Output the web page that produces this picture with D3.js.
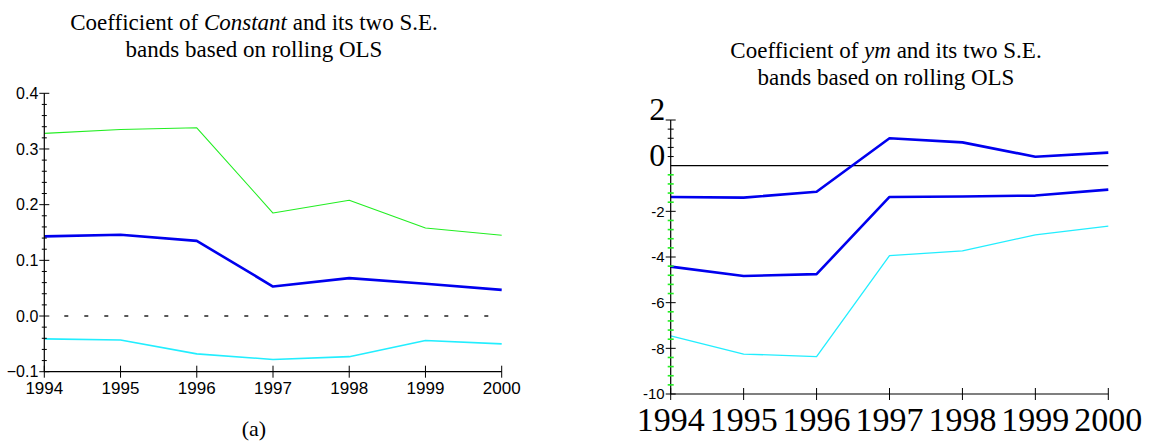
<!DOCTYPE html>
<html>
<head>
<meta charset="utf-8">
<script src="https://cdn.jsdelivr.net/npm/d3@7/dist/d3.min.js"></script>
<style>
  html, body { margin: 0; padding: 0; background: #fff; }
  svg { display: block; }
  .serif { font-family: "Liberation Serif", "Times New Roman", serif; }
  .sans { font-family: "Liberation Sans", Arial, sans-serif; }
</style>
</head>
<body>
<svg id="chart" width="1154" height="443"></svg>
<script>
"use strict";

// ─── Data ─────────────────────────────────────────────────────────────────────
const years = [1994, 1995, 1996, 1997, 1998, 1999, 2000];

// panel (a): coefficient of Constant
const constUpper = [0.328, 0.335, 0.338, 0.185, 0.208, 0.158, 0.145];
const constCoef  = [0.143, 0.146, 0.135, 0.053, 0.068, 0.058, 0.047];
const constLower = [-0.041, -0.043, -0.068, -0.078, -0.073, -0.044, -0.050];
const constTicks = [-0.1, 0.0, 0.1, 0.2, 0.3, 0.4];

// panel (b): coefficient of ym
const ymUpper = [-1.37, -1.40, -1.14, 1.20, 1.02, 0.39, 0.57];
const ymCoef  = [-4.42, -4.83, -4.75, -1.37, -1.35, -1.31, -1.05];
const ymLower = [-7.45, -8.25, -8.36, -3.94, -3.73, -3.03, -2.65];
const ymTicks = [-10, -8, -6, -4, -2];
const ymBigTicks = [0, 2];   // these two are printed large, sitting on the tick

const svg = d3.select("#chart");

const line = (x, y) => d3.line().x((d, i) => x(years[i])).y(d => y(d));

function drawSeries(g, x, y, values, color, width) {
  g.append("path")
    .datum(values)
    .attr("fill", "none")
    .attr("stroke", color)
    .attr("stroke-width", width)
    .attr("stroke-linejoin", "round")
    .attr("d", line(x, y));
}

function xAxis(g, x, y0, opts) {
  g.append("line")
    .attr("x1", x(years[0])).attr("x2", x(years[years.length - 1]))
    .attr("y1", y0).attr("y2", y0)
    .attr("stroke", "#000").attr("stroke-width", 1.2);
  g.selectAll(null).data(years).join("line")
    .attr("x1", d => x(d)).attr("x2", d => x(d))
    .attr("y1", y0 - 6).attr("y2", y0 + 6)
    .attr("stroke", "#000").attr("stroke-width", 1);
  g.selectAll(null).data(years).join("text")
    .attr("class", opts.cls)
    .attr("x", d => x(d))
    .attr("y", y0 + opts.dy)
    .attr("text-anchor", "middle")
    .attr("font-size", opts.size)
    .attr("fill", "#000")
    .text(d => d);
}

function title(g, cx, y, lead, italic, tail) {
  const t1 = g.append("text").attr("class", "serif")
    .attr("x", cx).attr("y", y).attr("text-anchor", "middle")
    .attr("font-size", 23).attr("fill", "#000");
  t1.append("tspan").text(lead);
  t1.append("tspan").attr("font-style", "italic").text(italic);
  t1.append("tspan").text(tail);
  g.append("text").attr("class", "serif")
    .attr("x", cx).attr("y", y + 27.5).attr("text-anchor", "middle")
    .attr("font-size", 23).attr("fill", "#000")
    .text("bands based on rolling OLS");
}

// ─── Panel (a) ───────────────────────────────────────────────────────────────
{
  const g = svg.append("g");
  const x = d3.scaleLinear().domain([1994, 2000]).range([44.3, 501.7]);
  const y = d3.scaleLinear().domain([-0.1, 0.4]).range([371.7, 93.3]);

  title(g, 254, 29.5, "Coefficient of ", "Constant", " and its two S.E.");

  // dashed zero line
  g.append("line")
    .attr("x1", x(1994) + 20).attr("x2", x(2000))
    .attr("y1", y(0)).attr("y2", y(0))
    .attr("stroke", "#222").attr("stroke-width", 1.3)
    .attr("stroke-dasharray", "4,16");

  drawSeries(g, x, y, constUpper, "#22ee22", 1.1);
  drawSeries(g, x, y, constCoef, "#0000ee", 2.6);
  drawSeries(g, x, y, constLower, "#22eeff", 1.6);

  // y axis
  const x0 = x(1994);
  g.append("line")
    .attr("x1", x0).attr("x2", x0).attr("y1", y(0.4)).attr("y2", y(-0.1))
    .attr("stroke", "#000").attr("stroke-width", 1.2);
  const minor = d3.range(0, 26).map(i => -0.1 + i * 0.02)
    .filter(v => Math.abs(Math.round(v * 10) - v * 10) > 1e-6);
  g.selectAll(null).data(minor).join("line")
    .attr("x1", x0 - 2.5).attr("x2", x0 + 2.5)
    .attr("y1", d => y(d)).attr("y2", d => y(d))
    .attr("stroke", "#000").attr("stroke-width", 1);
  g.selectAll(null).data(constTicks).join("line")
    .attr("x1", x0 - 5).attr("x2", x0 + 5)
    .attr("y1", d => y(d)).attr("y2", d => y(d))
    .attr("stroke", "#000").attr("stroke-width", 1);
  g.selectAll(null).data(constTicks).join("text")
    .attr("class", "sans")
    .attr("x", x0 - 6).attr("y", d => y(d))
    .attr("dy", "0.36em")
    .attr("text-anchor", "end")
    .attr("font-size", 16).attr("fill", "#000")
    .text(d3.format(".1f"));

  xAxis(g, x, y(-0.1), { cls: "sans", size: 17, dy: 22.5 });

  g.append("text").attr("class", "serif")
    .attr("x", 254).attr("y", 436).attr("text-anchor", "middle")
    .attr("font-size", 22).attr("fill", "#000").text("(a)");
}

// ─── Panel (b) ───────────────────────────────────────────────────────────────
{
  const g = svg.append("g");
  const x = d3.scaleLinear().domain([1994, 2000]).range([670.7, 1108.3]);
  const y = d3.scaleLinear().domain([-10, 2]).range([394, 120]);

  title(g, 886, 57.5, "Coefficient of ", "ym", " and its two S.E.");

  // solid zero line
  g.append("line")
    .attr("x1", x(1994)).attr("x2", x(2000))
    .attr("y1", y(0)).attr("y2", y(0))
    .attr("stroke", "#000").attr("stroke-width", 1.2);

  drawSeries(g, x, y, ymUpper, "#0000ee", 2.6);
  drawSeries(g, x, y, ymCoef, "#0000ee", 2.6);
  drawSeries(g, x, y, ymLower, "#22eeff", 1.3);

  const x0 = x(1994);
  g.append("line")
    .attr("x1", x0).attr("x2", x0).attr("y1", y(2)).attr("y2", y(-10))
    .attr("stroke", "#000").attr("stroke-width", 1.2);
  const minor = d3.range(0, 31).map(i => -10 + i * 0.4)
    .filter(v => Math.abs(v / 2 - Math.round(v / 2)) > 1e-6);
  g.selectAll(null).data(minor).join("line")
    .attr("x1", x0 - 3).attr("x2", x0 + 3)
    .attr("y1", d => y(d)).attr("y2", d => y(d))
    .attr("stroke", d => d < 0 ? "#22ee22" : "#000")
    .attr("stroke-width", d => d < 0 ? 1.6 : 1);
  g.selectAll(null).data(ymTicks.concat([2])).join("line")
    .attr("x1", x0 - 5).attr("x2", x0 + 5)
    .attr("y1", d => y(d)).attr("y2", d => y(d))
    .attr("stroke", "#000").attr("stroke-width", 1);
  g.selectAll(null).data(ymTicks).join("text")
    .attr("class", "sans")
    .attr("x", x0 - 6).attr("y", d => y(d))
    .attr("dy", "0.36em")
    .attr("text-anchor", "end")
    .attr("font-size", 15).attr("fill", "#000")
    .text(d => d);
  g.selectAll(null).data(ymBigTicks).join("text")
    .attr("class", "serif")
    .attr("x", x0 - 5.5).attr("y", d => y(d))
    .attr("text-anchor", "end")
    .attr("font-size", 32).attr("fill", "#000")
    .text(d => d);

  xAxis(g, x, y(-10), { cls: "serif", size: 34, dy: 37 });
}
</script>
</body>
</html>
